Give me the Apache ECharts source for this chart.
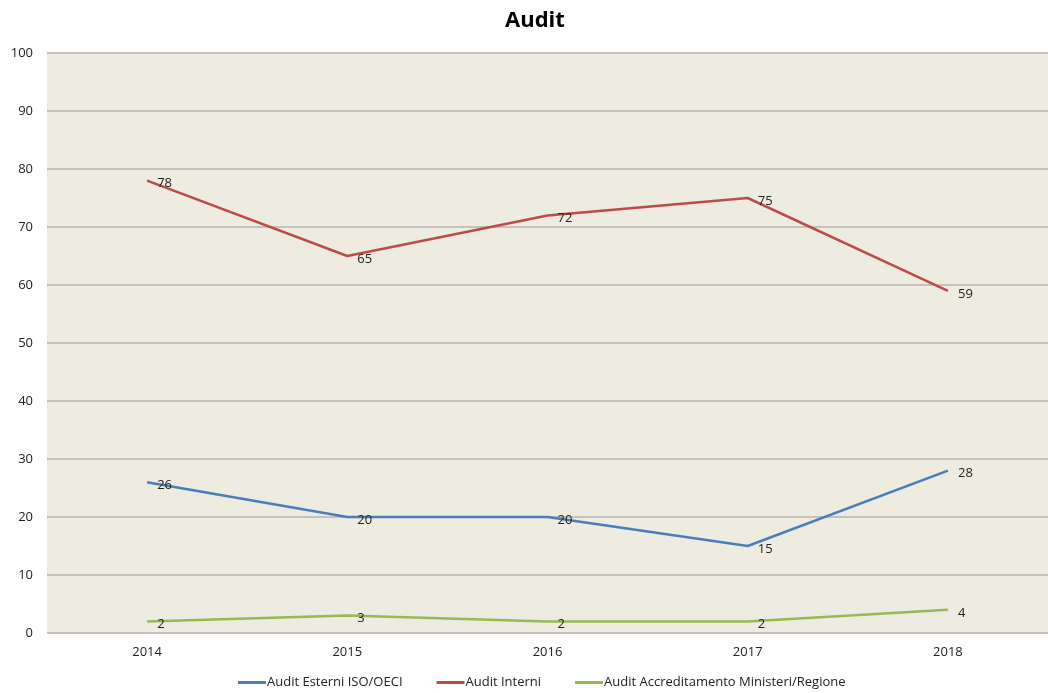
<!DOCTYPE html>
<html>
<head>
<meta charset="utf-8">
<script src="https://cdn.jsdelivr.net/npm/echarts@6/dist/echarts.min.js"></script>
<style>html,body{margin:0;padding:0;background:#fff;}#c{width:1048px;height:693px;}</style>
</head>
<body>
<div id="c"></div>
<script>
var categories = ['2014', '2015', '2016', '2017', '2018'];
var esterni = [26, 20, 20, 15, 28];
var interni = [78, 65, 72, 75, 59];
var accreditamento = [2, 3, 2, 2, 4];
var seriesNames = ['Audit Esterni ISO/OECI', 'Audit Interni', 'Audit Accreditamento Ministeri/Regione'];
var colors = ['#4A7EBB', '#BE4B48', '#98B954'];
var FONT = '"Open Sans", Lato, sans-serif';

var chart = echarts.init(document.getElementById('c'));
function mk(name, data, color) {
  return {
    name: name, type: 'line', data: data,
    symbol: 'circle', symbolSize: 0.1, showSymbol: true,
    lineStyle: { color: color, width: 2.5 },
    itemStyle: { color: color },
    label: { show: true, position: 'right', distance: 10, offset: [0, 3], color: '#222', fontSize: 13, fontFamily: FONT },
    emphasis: { disabled: true },
    animation: false
  };
}
chart.setOption({
  animation: false,
  title: { text: 'Audit', left: 500, top: 5, textStyle: { fontSize: 22, fontWeight: 'bold', color: '#000', fontFamily: FONT } },
  legend: {
    bottom: -1, left: 233, itemWidth: 28, itemHeight: 3, itemGap: 34,
    icon: 'rect',
    textStyle: { fontSize: 13, color: '#222', fontFamily: FONT, padding: [0, 0, 0, -4] },
    data: seriesNames
  },
  grid: { left: 47, right: -4, top: 53, bottom: 60, show: true, backgroundColor: '#EEEBE0', borderWidth: 0 },
  xAxis: {
    type: 'category', data: categories, boundaryGap: true,
    axisLine: { show: false }, axisTick: { show: false },
    axisLabel: { color: '#222', fontSize: 13, fontFamily: FONT, margin: 13 }
  },
  yAxis: {
    type: 'value', min: 0, max: 100, interval: 10,
    axisLine: { show: false }, axisTick: { show: false },
    axisLabel: { color: '#222', fontSize: 13, fontFamily: FONT, margin: 14 },
    splitLine: { lineStyle: { color: '#C4C2BC', width: 2 } }
  },
  series: [
    mk(seriesNames[0], esterni, colors[0]),
    mk(seriesNames[1], interni, colors[1]),
    mk(seriesNames[2], accreditamento, colors[2])
  ]
});
</script>
</body>
</html>
